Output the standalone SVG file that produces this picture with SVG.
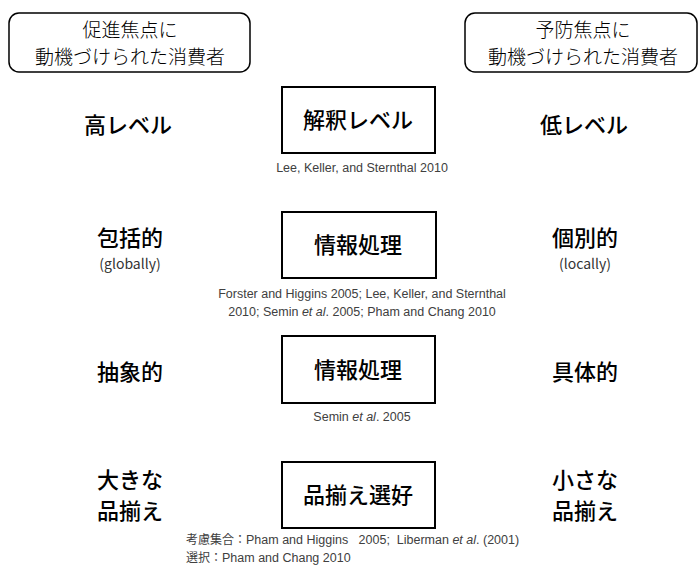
<svg xmlns="http://www.w3.org/2000/svg" width="700" height="566" viewBox="0 0 700 566">
<style>
.hdr{fill:#fff;stroke:#000;stroke-width:1.5}
.box{fill:#fff;stroke:#000;stroke-width:2}
.jp{font-family:"Noto Sans CJK JP","Noto Sans",sans-serif;fill:#000;text-anchor:middle}
.h{font-size:19px;font-weight:300}
.t{font-size:22px;font-weight:500}
.s{font-size:14px;fill:#333}
.c{font-family:"Liberation Sans","Noto Sans CJK JP",sans-serif;font-size:12.5px;fill:#404040}
.cj{font-family:"Noto Sans CJK JP",sans-serif;font-size:12px}
.cm{text-anchor:middle}
</style>
<rect width="700" height="566" fill="#fff"/>
<g id="promotion-header">
<rect class="hdr" x="9" y="13" width="241" height="59" rx="10"/>
<text class="jp h" x="130" y="37">促進焦点に</text>
<text class="jp h" x="130" y="64">動機づけられた消費者</text>
</g>
<g id="prevention-header">
<rect class="hdr" x="465" y="13" width="232" height="59" rx="10"/>
<text class="jp h" x="583" y="37">予防焦点に</text>
<text class="jp h" x="583" y="64">動機づけられた消費者</text>
</g>
<g id="construal">
<rect class="box" x="282" y="87" width="153" height="66"/>
<text class="jp t" x="358" y="128">解釈レベル</text>
<text class="c cm" x="362" y="172">Lee, Keller, and Sternthal 2010</text>
</g>
<g id="info1">
<rect class="box" x="282" y="212" width="154" height="66"/>
<text class="jp t" x="358" y="253">情報処理</text>
<text class="c cm" x="362" y="298">Forster and Higgins 2005; Lee, Keller, and Sternthal</text>
<text class="c cm" x="362" y="316">2010; Semin <tspan font-style="italic">et al</tspan>. 2005; Pham and Chang 2010</text>
</g>
<g id="info2">
<rect class="box" x="282" y="336" width="153" height="67"/>
<text class="jp t" x="358" y="378">情報処理</text>
<text class="c cm" x="362" y="421">Semin <tspan font-style="italic">et al</tspan>. 2005</text>
</g>
<g id="assortment">
<rect class="box" x="282" y="462" width="153" height="66"/>
<text class="jp t" x="358" y="503">品揃え選好</text>
<text class="c" x="186" y="544" xml:space="preserve"><tspan class="cj">考慮集合：</tspan>Pham and Higgins   2005;  Liberman <tspan font-style="italic">et al</tspan>. (2001)</text>
<text class="c" x="186" y="562"><tspan class="cj">選択：</tspan>Pham and Chang 2010</text>
</g>
<g id="left-labels">
<text class="jp t" x="128" y="133">高レベル</text>
<text class="jp t" x="130" y="246">包括的</text>
<text class="jp s" x="130" y="269">(globally)</text>
<text class="jp t" x="130" y="380">抽象的</text>
<text class="jp t" x="130" y="488">大きな</text>
<text class="jp t" x="130" y="519">品揃え</text>
</g>
<g id="right-labels">
<text class="jp t" x="584" y="133">低レベル</text>
<text class="jp t" x="585" y="246">個別的</text>
<text class="jp s" x="585" y="269">(locally)</text>
<text class="jp t" x="585" y="380">具体的</text>
<text class="jp t" x="585" y="488">小さな</text>
<text class="jp t" x="585" y="519">品揃え</text>
</g>
<g id="connectors"></g>
</svg>
